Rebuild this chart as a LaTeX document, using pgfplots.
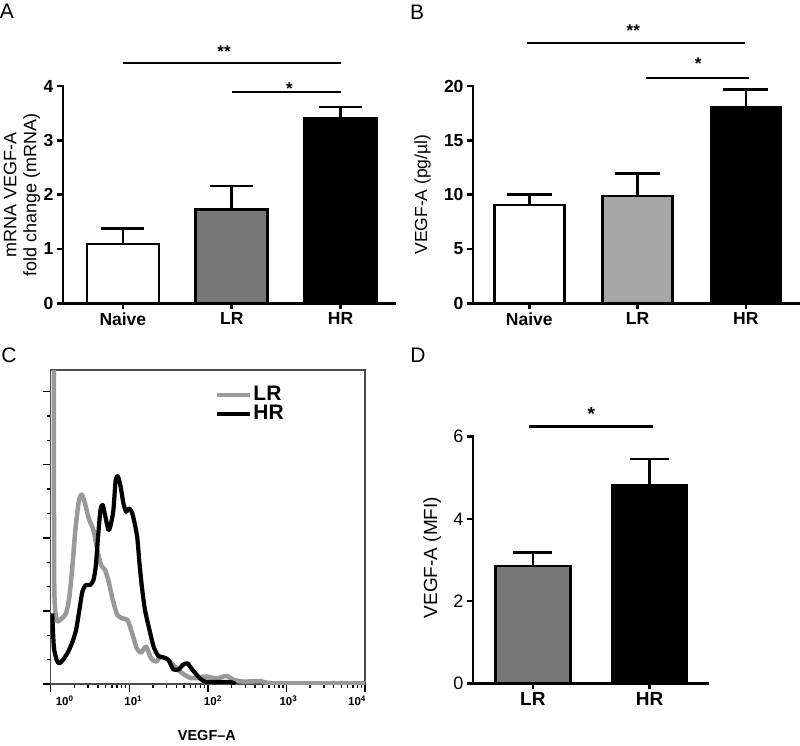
\documentclass[border=0pt]{standalone}
\usepackage{pgfplots}
\pgfplotsset{compat=1.18}
\usepackage{fontspec}
\setmainfont{Liberation Sans}
\definecolor{lrA}{HTML}{777777}
\definecolor{lrB}{HTML}{A6A6A6}
\definecolor{histgray}{HTML}{999999}
\newcommand{\fs}[1]{\fontsize{#1}{#1}\selectfont}

\pgfplotsset{
  prism/.style={
    scale only axis, anchor=south west,
    axis x line*=bottom, axis y line*=left,
    axis line style={-, line width=2.6pt, line cap=rect},
    tick align=outside,
    major tick length=6pt,
    tick style={black, line width=2.6pt},
    minor tick num=0,
    ymin=0, clip=false,
    /pgf/number format/assume math mode=true,
  },
  pbar/.style={ybar, bar shift=0pt, draw=black, line width=2.5pt,
    /pgfplots/error bars/y dir=plus, /pgfplots/error bars/y explicit,
    /pgfplots/error bars/error bar style={line width=2.5pt, black},
    /pgfplots/error bars/error mark options={line width=2.5pt, black, rotate=90, mark size=#1}},
}

\begin{document}
\begin{tikzpicture}[x=1pt,y=1pt]
\path[use as bounding box, fill=white] (0,0) rectangle (800,745);

% panel letters
\node[font=\fs{21}, inner sep=0pt] at (7,734) {A};
\node[font=\fs{21}, inner sep=0pt] at (417,733) {B};
\node[font=\fs{21}, inner sep=0pt] at (9,390) {C};
\node[font=\fs{21}, inner sep=0pt] at (418,390) {D};

% ---------------- Panel A ----------------
\begin{axis}[prism, at={(63pt,441.7pt)}, width=332pt, height=217.3pt,
  xmin=-0.55, xmax=2.5, ymax=4,
  xtick={0,1,2}, xticklabels={Naive,LR,HR},
  ytick={0,1,2,3,4},
  ticklabel style={font=\bfseries\fs{17.5}},
  ylabel={mRNA VEGF-A\\fold change (mRNA)},
  ylabel style={align=center, font=\fontsize{18}{20}\selectfont, at={(axis description cs:-0.1235,0.5)}, anchor=center},
]
\addplot[fill=white, bar width=72pt, pbar=21.5pt] coordinates {(0,1.09) +- (0,0.29)};
\addplot[fill=lrA, bar width=72pt, pbar=21.5pt] coordinates {(1,1.73) +- (0,0.43)};
\addplot[fill=black, bar width=72pt, pbar=21.5pt] coordinates {(2,3.40) +- (0,0.21)};
\addplot[black, line width=2.5pt] coordinates {(0,4.42) (2,4.42)};
\addplot[black, line width=2.5pt] coordinates {(1,3.89) (2,3.89)};
\node[anchor=base, font=\bfseries\fs{17}, inner sep=0pt] at (axis cs:0.93,4.53) {**};
\node[anchor=base, font=\bfseries\fs{17}, inner sep=0pt] at (axis cs:1.53,3.85) {*};
\end{axis}

% ---------------- Panel B ----------------
\begin{axis}[prism, at={(473pt,441.7pt)}, width=327pt, height=217.3pt,
  xmin=-0.52, xmax=2.5, ymax=20,
  xtick={0,1,2}, xticklabels={Naive,LR,HR},
  ytick={0,5,10,15,20},
  ticklabel style={font=\bfseries\fs{17.5}},
  ylabel={VEGF-A (pg/µl)},
  ylabel style={font=\fs{17.5}, at={(axis description cs:-0.154,0.5)}, anchor=center},
]
\addplot[fill=white, bar width=70pt, pbar=22.5pt] coordinates {(0,9.04) +- (0,0.99)};
\addplot[fill=lrB, bar width=70pt, pbar=22.5pt] coordinates {(1,9.87) +- (0,2.09)};
\addplot[fill=black, bar width=70pt, pbar=22.5pt] coordinates {(2,18.0) +- (0,1.69)};
\addplot[black, line width=2.5pt] coordinates {(-0.02,23.96) (1.99,23.96)};
\addplot[black, line width=2.5pt] coordinates {(1.08,20.74) (2.03,20.74)};
\node[anchor=base, font=\bfseries\fs{17}, inner sep=0pt] at (axis cs:0.96,24.6) {**};
\node[anchor=base, font=\bfseries\fs{17}, inner sep=0pt] at (axis cs:1.56,21.5) {*};
\end{axis}

% ---------------- Panel C ----------------
\begin{axis}[scale only axis, anchor=south west, at={(50.7pt,61pt)}, width=314.3pt, height=314pt,
  xmin=0, xmax=4, ymin=0, ymax=12.89,
  axis line style={black!70, line width=1.2pt},
  tick align=outside,
  xtick={0,1,2,3,4},
  xticklabels={\hspace*{28pt}10\textsuperscript{0},\hspace*{8pt}10\textsuperscript{1},\hspace*{10pt}10\textsuperscript{2},\hspace*{4pt}10\textsuperscript{3},10\textsuperscript{4}\hspace*{16pt}},
  xticklabel style={font=\bfseries\fs{11.5}},
  minor xtick={0.301,0.477,0.602,0.699,0.778,0.845,0.903,0.954,
    1.301,1.477,1.602,1.699,1.778,1.845,1.903,1.954,
    2.301,2.477,2.602,2.699,2.778,2.845,2.903,2.954,
    3.301,3.477,3.602,3.699,3.778,3.845,3.903,3.954},
  ytick={0,3,6,9,12}, yticklabels={},
  minor ytick={1,2,4,5,7,8,10,11},
  major tick length=8pt, minor tick length=4pt,
  every tick/.style={black, line width=1.4pt},
  xtick pos=bottom, ytick pos=left,
  xlabel={VEGF–A},
  xlabel style={font=\bfseries\fs{14.5}, at={(axis description cs:0.497,-0.163)}, anchor=center},
  legend style={draw=none, fill=none, at={(0.523,0.951)}, anchor=north west, inner sep=0pt, outer sep=0pt,
    font=\bfseries\fs{21}, row sep=0pt, column sep=2pt,
    nodes={inner sep=0pt, text height=15pt, text depth=4pt}, cells={anchor=west}},
  legend image code/.code={\draw[#1, line width=3.4pt] (0pt,0pt) -- (33pt,0pt);},
]
\addplot[histgray, line width=4.5pt, smooth, tension=0.4, line join=round] coordinates {
(0.04,13.5) (0.045,4.13) (0.076,2.63) (0.14,2.69) (0.195,2.9) (0.238,3.58) (0.276,4.82)
(0.314,6.32) (0.357,7.48) (0.395,7.78) (0.437,7.41) (0.484,6.8) (0.544,6.32) (0.594,5.5)
(0.641,4.88) (0.692,4.68) (0.743,4.13) (0.79,3.45) (0.849,2.83) (0.917,2.69) (0.977,2.63)
(1.03,2.15) (1.096,1.46) (1.15,1.29) (1.214,1.53) (1.278,1.05) (1.342,0.92) (1.40,1.12)
(1.47,1.05) (1.54,0.85) (1.65,0.5) (1.775,0.25) (1.9,0.25) (1.944,0.3) (2.0,0.3) (2.11,0.23)
(2.24,0.33) (2.33,0.17) (2.45,0.1) (2.67,0.12) (2.75,0.05) (3.0,0.03) (4.0,0.03)};
\addlegendentry{LR}
\addplot[black, line width=4.2pt, smooth, tension=0.4, line join=round] coordinates {
(0.02,2.9) (0.04,1.53) (0.076,0.98) (0.11,0.85) (0.153,0.98) (0.212,1.26) (0.27,1.67)
(0.323,2.22) (0.365,3.04) (0.403,3.79) (0.446,4.06) (0.501,4.06) (0.544,4.27) (0.573,4.82)
(0.603,6.05) (0.633,7.14) (0.662,7.35) (0.696,6.87) (0.735,6.32) (0.764,6.53) (0.798,7.14)
(0.825,8.3) (0.85,8.54) (0.883,8.23) (0.926,7.41) (0.96,7.07) (0.99,7.2) (1.02,7.14)
(1.05,6.87) (1.10,6.05) (1.13,4.95) (1.16,4.0) (1.2,3.04) (1.257,2.22) (1.31,1.53)
(1.37,1.15) (1.435,1.09) (1.5,0.98) (1.56,0.6) (1.63,0.6) (1.68,0.78) (1.74,0.85)
(1.8,0.6) (1.88,0.3) (1.97,0.1) (2.28,0.08) (2.35,0.0)};
\addlegendentry{HR}
\end{axis}

% ---------------- Panel D ----------------
\begin{axis}[prism, at={(473pt,61.7pt)}, width=235pt, height=246.6pt,
  xmin=-0.513, xmax=1.5, ymax=6,
  xtick={0,1}, xticklabels={LR,HR},
  ytick={0,2,4,6},
  yticklabel style={font=\fs{18}},
  xticklabel style={font=\bfseries\fs{19}},
  ylabel={VEGF-A (MFI)},
  ylabel style={font=\fs{19}, at={(axis description cs:-0.174,0.51)}, anchor=center},
]
\addplot[fill=lrA, bar width=75pt, pbar=19.5pt] coordinates {(0,2.85) +- (0,0.33)};
\addplot[fill=black, bar width=75pt, pbar=19.5pt] coordinates {(1,4.81) +- (0,0.65)};
\addplot[black, line width=2.5pt] coordinates {(-0.03,6.25) (1.03,6.25)};
\node[anchor=base, font=\bfseries\fs{19}, inner sep=0pt] at (axis cs:0.5,6.39) {*};
\end{axis}
\end{tikzpicture}
\end{document}
